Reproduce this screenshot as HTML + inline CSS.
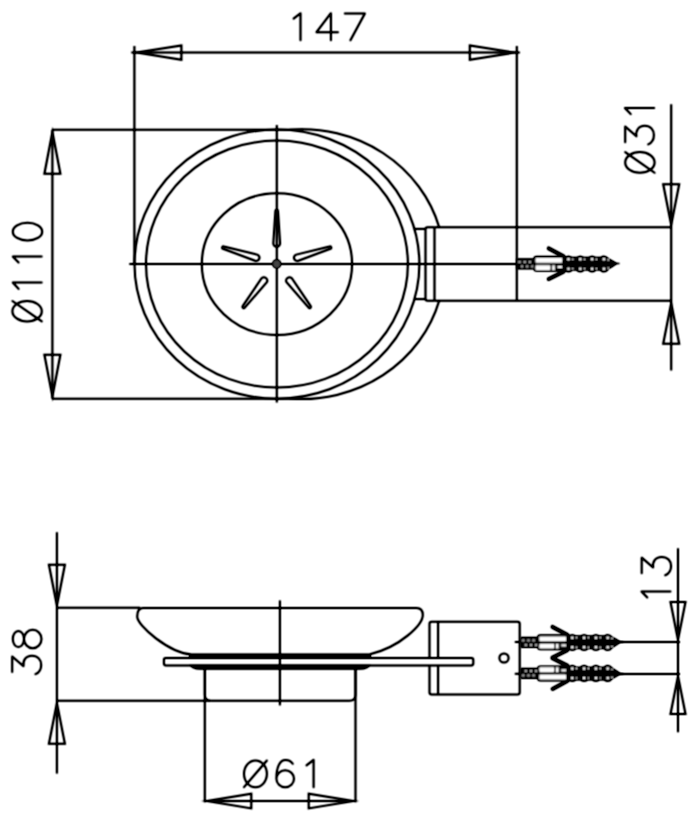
<!DOCTYPE html>
<html><head><meta charset="utf-8"><style>
html,body{margin:0;padding:0;background:#fff;}
svg{display:block;}
</style></head><body>
<svg width="696" height="817" viewBox="0 0 696 817">
<defs><filter id="bl" filterUnits="userSpaceOnUse" x="0" y="0" width="696" height="817"><feConvolveMatrix order="3" kernelMatrix="0.5 1 0.5 1 2 1 0.5 1 0.5" preserveAlpha="false"/><feComponentTransfer><feFuncA type="linear" slope="1.25"/></feComponentTransfer></filter></defs>
<rect width="696" height="817" fill="#fff"/>
<g filter="url(#bl)">
<g fill="none" stroke="#000" stroke-width="2.0" stroke-linecap="butt" stroke-linejoin="round">
<line x1="134.4" y1="46" x2="134.4" y2="264"/>
<line x1="516.8" y1="46" x2="516.8" y2="300.8"/>
<line x1="131.4" y1="52.6" x2="519.8" y2="52.6"/>
<path d="M136.70,52.60 L181.40,45.40 L181.40,59.80 Z" stroke-linejoin="miter" stroke-miterlimit="8"/>
<path d="M514.50,52.60 L469.80,59.80 L469.80,45.40 Z" stroke-linejoin="miter" stroke-miterlimit="8"/>
<line x1="52.4" y1="129.7" x2="52.4" y2="398.7"/>
<line x1="52.4" y1="129.7" x2="303" y2="129.7"/>
<line x1="52.4" y1="398.7" x2="303" y2="398.7"/>
<path d="M52.40,132.00 L60.40,173.70 L44.40,173.70 Z" stroke-linejoin="miter" stroke-miterlimit="8"/>
<path d="M52.40,396.40 L44.40,354.70 L60.40,354.70 Z" stroke-linejoin="miter" stroke-miterlimit="8"/>
<ellipse cx="276.95" cy="264.1" rx="142.45" ry="134.6"/>
<ellipse cx="276.95" cy="264.1" rx="130.95" ry="123.5"/>
<path d="M289.5,129.8 A142.45,134.6 0 0 1 439.2,227.2 M439.2,300.8 A142.45,134.6 0 0 1 289.5,398.5"/>
<ellipse cx="276.95" cy="264.1" rx="75.15" ry="70.8"/>
<line x1="414.5" y1="228.9" x2="425.5" y2="228.9"/>
<line x1="414.5" y1="299.1" x2="425.5" y2="299.1"/>
<path d="M425.5,229 L425.5,299 M434.5,227.2 L434.5,300.8 M425.5,229 Q425.5,227.2 427.5,227.2 L434.5,227.2 M425.5,299 Q425.5,300.8 427.5,300.8 L434.5,300.8"/>
<line x1="434.5" y1="227.2" x2="671.2" y2="227.2"/>
<line x1="434.5" y1="300.8" x2="671.2" y2="300.8"/>
<line x1="129.3" y1="264" x2="518" y2="264"/>
<line x1="276.8" y1="125" x2="276.8" y2="402.6"/>
<circle cx="276.7" cy="263.9" r="3.9" fill="#444" stroke-width="1.5"/>
<path d="M20.5,-3.2 L53,-1.2 A1.2,1.2 0 0 1 53,1.2 L20.5,3.2 A3.2,3.2 0 0 1 20.5,-3.2 Z" transform="translate(276.7,264) scale(1.058,1) rotate(-90)" vector-effect="non-scaling-stroke" stroke-width="2"/>
<path d="M20.5,-3.2 L53,-1.2 A1.2,1.2 0 0 1 53,1.2 L20.5,3.2 A3.2,3.2 0 0 1 20.5,-3.2 Z" transform="translate(276.7,264) scale(1.058,1) rotate(-162)" vector-effect="non-scaling-stroke" stroke-width="2"/>
<path d="M20.5,-3.2 L53,-1.2 A1.2,1.2 0 0 1 53,1.2 L20.5,3.2 A3.2,3.2 0 0 1 20.5,-3.2 Z" transform="translate(276.7,264) scale(1.058,1) rotate(-18)" vector-effect="non-scaling-stroke" stroke-width="2"/>
<path d="M20.5,-3.2 L53,-1.2 A1.2,1.2 0 0 1 53,1.2 L20.5,3.2 A3.2,3.2 0 0 1 20.5,-3.2 Z" transform="translate(276.7,264) scale(1.058,1) rotate(126)" vector-effect="non-scaling-stroke" stroke-width="2"/>
<path d="M20.5,-3.2 L53,-1.2 A1.2,1.2 0 0 1 53,1.2 L20.5,3.2 A3.2,3.2 0 0 1 20.5,-3.2 Z" transform="translate(276.7,264) scale(1.058,1) rotate(54)" vector-effect="non-scaling-stroke" stroke-width="2"/>
<line x1="671.2" y1="104.3" x2="671.2" y2="370.6"/>
<path d="M671.20,224.90 L663.20,184.20 L679.20,184.20 Z" stroke-linejoin="miter" stroke-miterlimit="8"/>
<path d="M671.20,303.10 L679.20,343.80 L663.20,343.80 Z" stroke-linejoin="miter" stroke-miterlimit="8"/>
<line x1="56.9" y1="532.2" x2="56.9" y2="773.6"/>
<path d="M56.90,605.50 L48.90,564.80 L64.90,564.80 Z" stroke-linejoin="miter" stroke-miterlimit="8"/>
<path d="M56.90,703.10 L64.90,743.80 L48.90,743.80 Z" stroke-linejoin="miter" stroke-miterlimit="8"/>
<line x1="56.9" y1="607.8" x2="140" y2="607.8"/>
<line x1="56.9" y1="700.8" x2="210" y2="700.8"/>
<path d="M370,654.3 C400.75,646.63 422.8,624.63 422.8,615 C422.8,610.5 421,608 416.5,608 L143,608 C138.5,608 137.2,611 137.2,616.5 C137.2,626.03 169.35,652.58 190.5,654.3"/>
<path d="M189,653.6 Q192,653.4 196,653.4 L364,653.4 Q368,653.4 371,653.6 L371,658.4 L189,658.4 Z" fill="#000" stroke="none"/>
<path d="M189,664.8 L371,664.8 Q368,669.8 360,669.8 L200,669.8 Q192,669.8 189,664.8 Z" fill="#000" stroke="none"/>
<path d="M204.8,669 L204.8,694.8 Q204.8,700.8 210.8,700.8 L349.5,700.8 Q355.5,700.8 355.5,694.8 L355.5,669"/>
<line x1="204.8" y1="669" x2="204.8" y2="802.3"/>
<line x1="355.5" y1="669" x2="355.5" y2="802.3"/>
<line x1="204.8" y1="801.1" x2="355.5" y2="801.1"/>
<path d="M207.10,801.10 L251.30,793.80 L251.30,808.40 Z" stroke-linejoin="miter" stroke-miterlimit="8"/>
<path d="M353.20,801.10 L308.70,808.40 L308.70,793.80 Z" stroke-linejoin="miter" stroke-miterlimit="8"/>
<line x1="279.9" y1="600.4" x2="279.9" y2="705.4"/>
<path d="M429.5,657.2 L429.5,623.7 Q429.5,621.7 431.5,621.7 L517.7,621.7 Q519.7,621.7 519.7,623.7 L519.7,692.5 Q519.7,694.5 517.7,694.5 L431.5,694.5 Q429.5,694.5 429.5,692.5 L429.5,666.3 M438.1,621.7 L438.1,657.2 M438.1,666.3 L438.1,694.5"/>
<rect x="163.9" y="658.1" width="309.4" height="7.3" rx="1.8"/>
<circle cx="504" cy="658" r="4.6"/>
<line x1="514.8" y1="642" x2="521" y2="642"/>
<line x1="514.8" y1="673.8" x2="521" y2="673.8"/>
<line x1="600" y1="642" x2="680" y2="642"/>
<line x1="600" y1="674" x2="680" y2="674"/>
<line x1="678" y1="548.3" x2="678" y2="732.2"/>
<path d="M678.00,639.70 L670.50,602.00 L685.50,602.00 Z" stroke-linejoin="miter" stroke-miterlimit="8"/>
<path d="M678.00,676.30 L685.50,714.00 L670.50,714.00 Z" stroke-linejoin="miter" stroke-miterlimit="8"/>
</g>
</g>
<g filter="url(#bl)">
<g fill="none" stroke="#000" stroke-width="2.0" stroke-linecap="round" stroke-linejoin="round">
<path d="M0,0.2 L1,0 L1,1" transform="matrix(6.900,0,0,27.100,293.600,13.200)" vector-effect="non-scaling-stroke"/>
<path d="M0.67,1 L0.67,0 L0,0.7 L1,0.7" transform="matrix(21.500,0,0,27.100,316.500,13.200)" vector-effect="non-scaling-stroke"/>
<path d="M0,0 L1,0 L0.28,1" transform="matrix(20.100,0,0,26.700,344.800,13.600)" vector-effect="non-scaling-stroke"/>
<path d="M0.5,0 A0.5,0.5 0 1 1 0.5,1 A0.5,0.5 0 1 1 0.5,0 Z M1,0 L0,1" transform="matrix(22.900,0,0,26.700,244.000,760.500)" vector-effect="non-scaling-stroke"/>
<path d="M0.93,0.14 C0.82,0.03 0.68,0 0.52,0 C0.2,0 0,0.25 0,0.69 M0.5,0.38 A0.5,0.31 0 1 1 0.5,1 A0.5,0.31 0 1 1 0.5,0.38 Z" transform="matrix(17.600,0,0,27.200,276.400,760.000)" vector-effect="non-scaling-stroke"/>
<path d="M0,0.2 L1,0 L1,1" transform="matrix(7.100,0,0,27.400,306.500,759.900)" vector-effect="non-scaling-stroke"/>
<path d="M0.5,0 A0.5,0.5 0 1 1 0.5,1 A0.5,0.5 0 1 1 0.5,0 Z M1,0 L0,1" transform="matrix(0,-20.700,29.400,0,625.200,172.800)" vector-effect="non-scaling-stroke"/>
<path d="M0.11,0 L0.96,0 L0.43,0.39 C0.72,0.36 1,0.46 1,0.68 C1,0.88 0.78,1 0.5,1 C0.28,1 0.08,0.93 0,0.8" transform="matrix(0,-18.700,28.700,0,625.200,144.400)" vector-effect="non-scaling-stroke"/>
<path d="M0,0.2 L1,0 L1,1" transform="matrix(0,-6.100,29.300,0,624.900,114.100)" vector-effect="non-scaling-stroke"/>
<path d="M0.5,0 A0.5,0.5 0 1 1 0.5,1 A0.5,0.5 0 1 1 0.5,0 Z M1,0 L0,1" transform="matrix(0,-20.400,29.400,0,12.400,321.400)" vector-effect="non-scaling-stroke"/>
<path d="M0,0.2 L1,0 L1,1" transform="matrix(0,-6.400,28.900,0,12.800,288.900)" vector-effect="non-scaling-stroke"/>
<path d="M0,0.2 L1,0 L1,1" transform="matrix(0,-5.900,28.900,0,12.800,262.500)" vector-effect="non-scaling-stroke"/>
<path d="M0.5,0 A0.5,0.5 0 1 1 0.5,1 A0.5,0.5 0 1 1 0.5,0 Z" transform="matrix(0,-17.700,29.400,0,12.800,240.500)" vector-effect="non-scaling-stroke"/>
<path d="M0.11,0 L0.96,0 L0.43,0.39 C0.72,0.36 1,0.46 1,0.68 C1,0.88 0.78,1 0.5,1 C0.28,1 0.08,0.93 0,0.8" transform="matrix(0,-18.400,29.000,0,12.200,674.100)" vector-effect="non-scaling-stroke"/>
<path d="M0.5,0 A0.44,0.195 0 1 1 0.5,0.39 A0.44,0.195 0 1 1 0.5,0 Z M0.5,0.39 A0.5,0.305 0 1 1 0.5,1 A0.5,0.305 0 1 1 0.5,0.39 Z" transform="matrix(0,-18.400,28.700,0,12.800,648.200)" vector-effect="non-scaling-stroke"/>
<path d="M0,0.2 L1,0 L1,1" transform="matrix(0,-6.000,29.000,0,641.500,597.500)" vector-effect="non-scaling-stroke"/>
<path d="M0.11,0 L0.96,0 L0.43,0.39 C0.72,0.36 1,0.46 1,0.68 C1,0.88 0.78,1 0.5,1 C0.28,1 0.08,0.93 0,0.8" transform="matrix(0,-18.400,29.400,0,641.700,575.300)" vector-effect="non-scaling-stroke"/>
</g>
</g>
<g fill="none" stroke="#000" stroke-width="2.0" stroke-linecap="butt" stroke-linejoin="round" filter="url(#bl)">
<g transform="translate(516.5,263.5)"><g>
<rect x="0" y="-5.3" width="17.5" height="11.3" rx="1" fill="#000" stroke="none"/>
<g fill="#aaa" stroke="none"><ellipse cx="3" cy="-1.6" rx="1.3" ry="1.2"/><ellipse cx="8.2" cy="-1.6" rx="1.3" ry="1.2"/><ellipse cx="13.3" cy="-1.6" rx="1.3" ry="1.2"/><ellipse cx="5.5" cy="2.9" rx="1.3" ry="1.2"/><ellipse cx="10.7" cy="2.9" rx="1.3" ry="1.2"/><ellipse cx="15.9" cy="2.9" rx="1.3" ry="1.2"/></g>
<rect x="16.8" y="-7.7" width="34" height="15.9" rx="3" fill="#000" stroke="none"/>
<g fill="#fff" stroke="none"><rect x="19" y="-5.6" width="27" height="4.8" rx="1.2"/><rect x="19" y="1.8" width="15" height="4.7" rx="1.2"/><rect x="35.7" y="1.8" width="2.6" height="4.7"/><rect x="41" y="2.3" width="5" height="2.2"/></g>
<rect x="46" y="-6.8" width="42" height="14" fill="#000" stroke="none"/>
<g fill="#000" stroke="none"><ellipse cx="52" cy="0.5" rx="6.6" ry="8.6"/><ellipse cx="63.8" cy="0.5" rx="6.6" ry="8.6"/><ellipse cx="75.6" cy="0.5" rx="6.6" ry="8.6"/><ellipse cx="87.4" cy="0.5" rx="6.6" ry="8.6"/><path d="M86,-8 Q95,-4.5 101.6,0 Q95,5 86,9 Z"/></g>
<g fill="#fff" stroke="none"><circle cx="52" cy="-4.2" r="1.3"/><circle cx="56.3" cy="-4.2" r="0.8"/><circle cx="63.8" cy="-4.2" r="1.3"/><circle cx="68.1" cy="-4.2" r="0.8"/><circle cx="75.6" cy="-4.2" r="1.3"/><circle cx="79.9" cy="-4.2" r="0.8"/><circle cx="87.4" cy="-4.2" r="1.3"/><circle cx="91.7" cy="-3.6" r="0.8"/>
<circle cx="52" cy="5.2" r="1.3"/><circle cx="56.3" cy="5.2" r="0.8"/><circle cx="63.8" cy="5.2" r="1.3"/><circle cx="68.1" cy="5.2" r="0.8"/><circle cx="75.6" cy="5.2" r="1.3"/><circle cx="79.9" cy="5.2" r="0.8"/><circle cx="87.4" cy="5.2" r="1.3"/><circle cx="91.7" cy="4.6" r="0.8"/></g>
<path d="M96,0 L103,0" stroke-width="1.5"/>
<path d="M32.3,-15.1 L46.9,-7.3 M32.3,15.5 L46.9,8.2" stroke-width="4" stroke-linecap="round"/>
</g></g>
<g transform="translate(520.3,642)"><g>
<rect x="0" y="-5.3" width="17.5" height="11.3" rx="1" fill="#000" stroke="none"/>
<g fill="#aaa" stroke="none"><ellipse cx="3" cy="-1.6" rx="1.3" ry="1.2"/><ellipse cx="8.2" cy="-1.6" rx="1.3" ry="1.2"/><ellipse cx="13.3" cy="-1.6" rx="1.3" ry="1.2"/><ellipse cx="5.5" cy="2.9" rx="1.3" ry="1.2"/><ellipse cx="10.7" cy="2.9" rx="1.3" ry="1.2"/><ellipse cx="15.9" cy="2.9" rx="1.3" ry="1.2"/></g>
<rect x="16.8" y="-7.7" width="34" height="15.9" rx="3" fill="#000" stroke="none"/>
<g fill="#fff" stroke="none"><rect x="19" y="-5.6" width="27" height="4.8" rx="1.2"/><rect x="19" y="1.8" width="15" height="4.7" rx="1.2"/><rect x="35.7" y="1.8" width="2.6" height="4.7"/><rect x="41" y="2.3" width="5" height="2.2"/></g>
<rect x="46" y="-6.8" width="42" height="14" fill="#000" stroke="none"/>
<g fill="#000" stroke="none"><ellipse cx="52" cy="0.5" rx="6.6" ry="8.6"/><ellipse cx="63.8" cy="0.5" rx="6.6" ry="8.6"/><ellipse cx="75.6" cy="0.5" rx="6.6" ry="8.6"/><ellipse cx="87.4" cy="0.5" rx="6.6" ry="8.6"/><path d="M86,-8 Q95,-4.5 101.6,0 Q95,5 86,9 Z"/></g>
<g fill="#fff" stroke="none"><circle cx="52" cy="-4.2" r="1.3"/><circle cx="56.3" cy="-4.2" r="0.8"/><circle cx="63.8" cy="-4.2" r="1.3"/><circle cx="68.1" cy="-4.2" r="0.8"/><circle cx="75.6" cy="-4.2" r="1.3"/><circle cx="79.9" cy="-4.2" r="0.8"/><circle cx="87.4" cy="-4.2" r="1.3"/><circle cx="91.7" cy="-3.6" r="0.8"/>
<circle cx="52" cy="5.2" r="1.3"/><circle cx="56.3" cy="5.2" r="0.8"/><circle cx="63.8" cy="5.2" r="1.3"/><circle cx="68.1" cy="5.2" r="0.8"/><circle cx="75.6" cy="5.2" r="1.3"/><circle cx="79.9" cy="5.2" r="0.8"/><circle cx="87.4" cy="5.2" r="1.3"/><circle cx="91.7" cy="4.6" r="0.8"/></g>
<path d="M96,0 L103,0" stroke-width="1.5"/>
<path d="M32.3,-15.1 L46.9,-7.3 M32.3,15.5 L46.9,8.2" stroke-width="4" stroke-linecap="round"/>
</g></g>
<g transform="translate(520.3,673.8) scale(1,-1)"><g>
<rect x="0" y="-5.3" width="17.5" height="11.3" rx="1" fill="#000" stroke="none"/>
<g fill="#aaa" stroke="none"><ellipse cx="3" cy="-1.6" rx="1.3" ry="1.2"/><ellipse cx="8.2" cy="-1.6" rx="1.3" ry="1.2"/><ellipse cx="13.3" cy="-1.6" rx="1.3" ry="1.2"/><ellipse cx="5.5" cy="2.9" rx="1.3" ry="1.2"/><ellipse cx="10.7" cy="2.9" rx="1.3" ry="1.2"/><ellipse cx="15.9" cy="2.9" rx="1.3" ry="1.2"/></g>
<rect x="16.8" y="-7.7" width="34" height="15.9" rx="3" fill="#000" stroke="none"/>
<g fill="#fff" stroke="none"><rect x="19" y="-5.6" width="27" height="4.8" rx="1.2"/><rect x="19" y="1.8" width="15" height="4.7" rx="1.2"/><rect x="35.7" y="1.8" width="2.6" height="4.7"/><rect x="41" y="2.3" width="5" height="2.2"/></g>
<rect x="46" y="-6.8" width="42" height="14" fill="#000" stroke="none"/>
<g fill="#000" stroke="none"><ellipse cx="52" cy="0.5" rx="6.6" ry="8.6"/><ellipse cx="63.8" cy="0.5" rx="6.6" ry="8.6"/><ellipse cx="75.6" cy="0.5" rx="6.6" ry="8.6"/><ellipse cx="87.4" cy="0.5" rx="6.6" ry="8.6"/><path d="M86,-8 Q95,-4.5 101.6,0 Q95,5 86,9 Z"/></g>
<g fill="#fff" stroke="none"><circle cx="52" cy="-4.2" r="1.3"/><circle cx="56.3" cy="-4.2" r="0.8"/><circle cx="63.8" cy="-4.2" r="1.3"/><circle cx="68.1" cy="-4.2" r="0.8"/><circle cx="75.6" cy="-4.2" r="1.3"/><circle cx="79.9" cy="-4.2" r="0.8"/><circle cx="87.4" cy="-4.2" r="1.3"/><circle cx="91.7" cy="-3.6" r="0.8"/>
<circle cx="52" cy="5.2" r="1.3"/><circle cx="56.3" cy="5.2" r="0.8"/><circle cx="63.8" cy="5.2" r="1.3"/><circle cx="68.1" cy="5.2" r="0.8"/><circle cx="75.6" cy="5.2" r="1.3"/><circle cx="79.9" cy="5.2" r="0.8"/><circle cx="87.4" cy="5.2" r="1.3"/><circle cx="91.7" cy="4.6" r="0.8"/></g>
<path d="M96,0 L103,0" stroke-width="1.5"/>
<path d="M32.3,-15.1 L46.9,-7.3 M32.3,15.5 L46.9,8.2" stroke-width="4" stroke-linecap="round"/>
</g></g>
</g>
</svg>
</body></html>
